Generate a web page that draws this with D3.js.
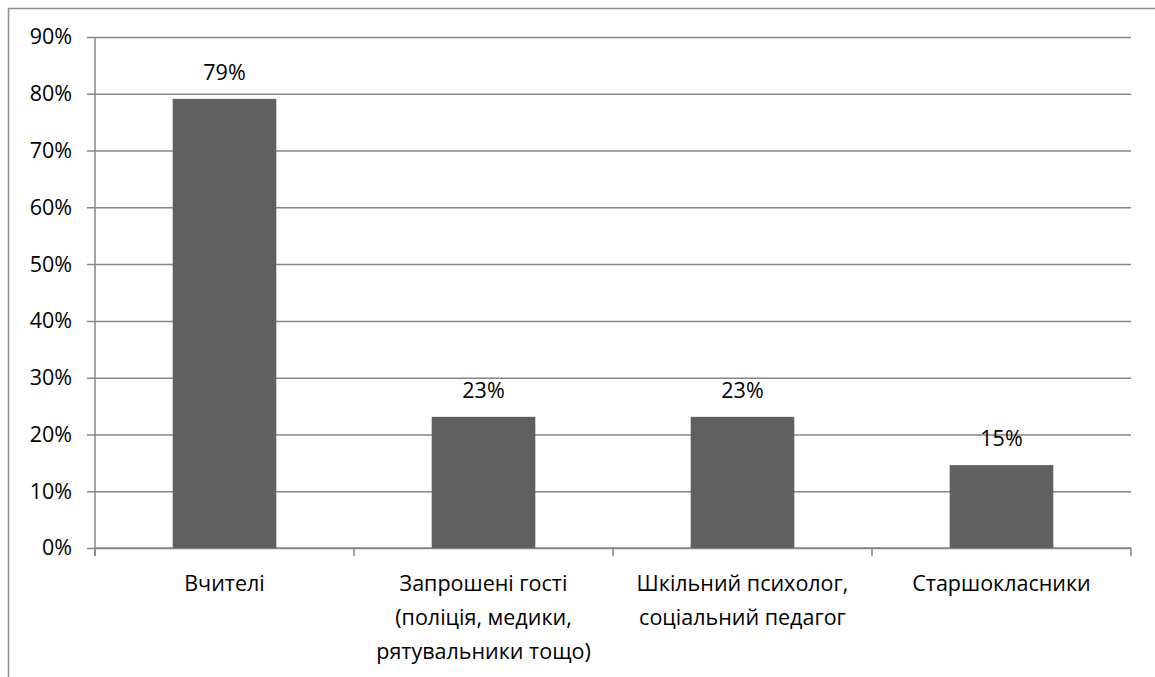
<!DOCTYPE html>
<html>
<head>
<meta charset="utf-8">
<script src="https://cdn.jsdelivr.net/npm/d3@7"></script>
<style>
  html, body { margin: 0; padding: 0; background: #fff; }
  svg { display: block; }
  text { font-family: "Open Sans", "Noto Sans", sans-serif; fill: #000; }
</style>
</head>
<body>
<svg id="chart" width="1155" height="677"></svg>
<script>
const categories = [
  "Вчителі",
  "Запрошені гості\n(поліція, медики,\nрятувальники тощо)",
  "Шкільний психолог,\nсоціальний педагог",
  "Старшокласники"
];
const values = [0.791, 0.231, 0.231, 0.146];
const valueLabels = ["79%", "23%", "23%", "15%"];
const yTicks = [0, 0.1, 0.2, 0.3, 0.4, 0.5, 0.6, 0.7, 0.8, 0.9];

(function () {
const svg = d3.select("#chart");
const W = 1155, H = 677;
const pLeft = 95, pRight = 1131, pTop = 37, pBottom = 548;
const gridColor = "#868686";
const fontSize = 21.5;

// outer frame (cropped at right/bottom)
svg.append("rect")
  .attr("x", 8.5).attr("y", 8.5)
  .attr("width", W + 20).attr("height", H + 20)
  .attr("fill", "none").attr("stroke", "#8f8f8f").attr("stroke-width", 1.5);

const x = d3.scaleBand().domain(categories).range([pLeft, pRight]).padding(0);
const y = d3.scaleLinear().domain([0, 0.9]).range([pBottom, pTop]);

// y axis with gridlines
const yAxis = d3.axisLeft(y)
  .tickValues(yTicks)
  .tickFormat(d3.format(".0%"))
  .tickSize(-(pRight - pLeft))
  .tickSizeOuter(0)
  .tickPadding(0);
const gy = svg.append("g").attr("transform", `translate(${pLeft},0)`).call(yAxis);
gy.select(".domain").remove();
gy.selectAll(".tick line")
  .attr("x1", -8)
  .attr("stroke", gridColor).attr("stroke-width", 1.5);
gy.selectAll(".tick text")
  .attr("x", -23)
  .style("font-size", fontSize + "px")
  .style("font-family", "'Open Sans', sans-serif")
  .attr("fill", "#000");

// vertical axis line
svg.append("line")
  .attr("x1", pLeft).attr("x2", pLeft)
  .attr("y1", y(0.9)).attr("y2", pBottom + 8)
  .attr("stroke", gridColor).attr("stroke-width", 1.5);

// x axis
const xAxis = d3.axisBottom(x).tickSize(0).tickFormat("");
const gx = svg.append("g").attr("transform", `translate(0,${pBottom})`).call(xAxis);
gx.select(".domain").attr("stroke", gridColor).attr("stroke-width", 1.5)
  .attr("d", `M${pLeft},0H${pRight}`);
const boundaries = categories.map(c => x(c)).concat([x(categories[categories.length - 1]) + x.bandwidth()]);
gx.selectAll(".bound").data(boundaries).join("line")
  .attr("class", "bound")
  .attr("x1", d => d).attr("x2", d => d)
  .attr("y1", 0).attr("y2", 8)
  .attr("stroke", gridColor).attr("stroke-width", 1.5);

// bars
const bw = x.bandwidth() * 0.4;
const off = (x.bandwidth() - bw) / 2;
svg.append("g").selectAll("rect").data(values).join("rect")
  .attr("x", (d, i) => x(categories[i]) + off)
  .attr("y", d => y(d))
  .attr("width", bw)
  .attr("height", d => y(0) - y(d))
  .attr("fill", "#606060");

// value labels
svg.append("g").selectAll("text").data(values).join("text")
  .attr("x", (d, i) => x(categories[i]) + x.bandwidth() / 2)
  .attr("y", d => y(d) - 19)
  .attr("text-anchor", "middle")
  .style("font-size", fontSize + "px")
  .text((d, i) => valueLabels[i]);

// category labels
const lineH = 34;
svg.append("g").selectAll("text").data(categories).join("text")
  .attr("text-anchor", "middle")
  .style("font-size", fontSize + "px")
  .each(function (c) {
    const t = d3.select(this);
    c.split("\n").forEach((ln, k) => {
      t.append("tspan")
        .attr("x", x(c) + x.bandwidth() / 2)
        .attr("y", 591 + k * lineH)
        .text(ln);
    });
  });
})();
</script>
</body>
</html>
